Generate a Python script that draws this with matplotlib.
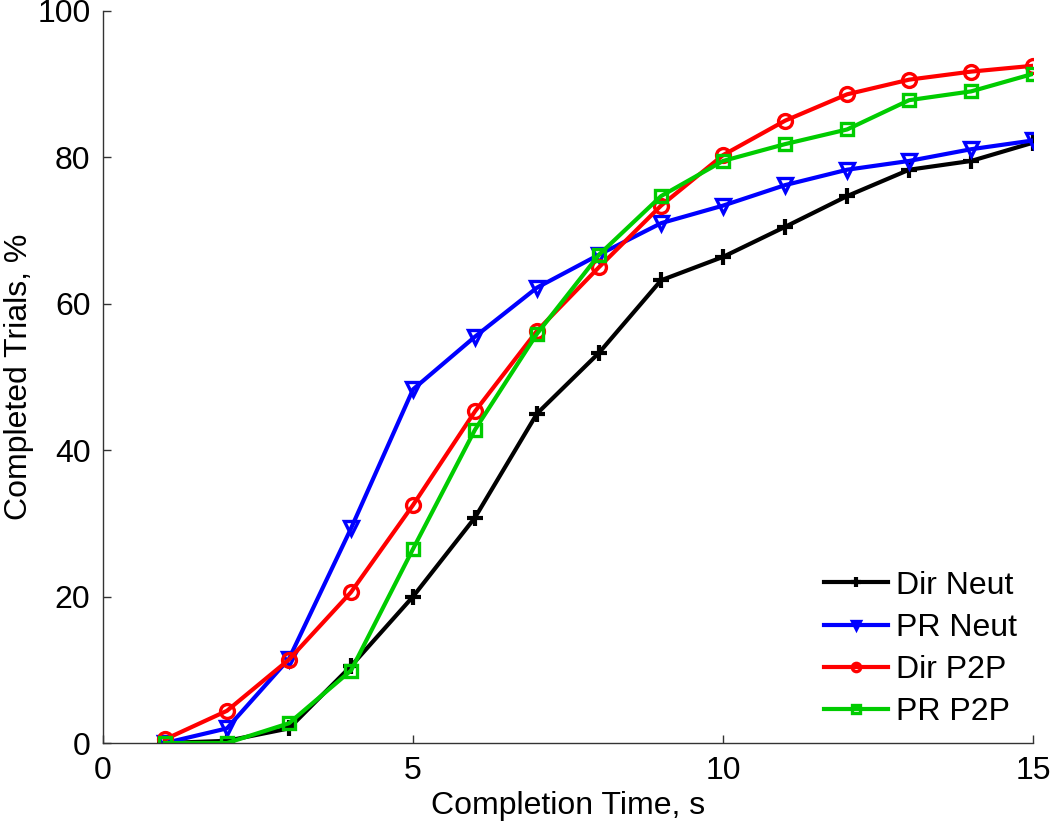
import matplotlib
matplotlib.use("Agg")
import matplotlib.pyplot as plt

plt.rcParams['font.family'] = ['Liberation Sans', 'DejaVu Sans']

time_s = [1, 2, 3, 4, 5, 6, 7, 8, 9, 10, 11, 12, 13, 14, 15]
dir_neut = [0, 0.3, 2.0, 10.5, 20.0, 30.8, 45.0, 53.3, 63.2, 66.4, 70.5, 74.7, 78.3, 79.5, 82.0]
pr_neut = [0, 2.0, 11.5, 29.3, 48.3, 55.5, 62.2, 66.7, 71.0, 73.4, 76.2, 78.3, 79.5, 81.1, 82.3]
dir_p2p = [0.5, 4.4, 11.4, 20.6, 32.5, 45.3, 56.3, 65.0, 73.4, 80.3, 85.0, 88.6, 90.6, 91.7, 92.5]
pr_p2p = [0, 0, 2.7, 9.9, 26.5, 42.8, 55.9, 66.7, 74.7, 79.5, 81.8, 83.8, 87.8, 89.0, 91.4]

labels = ["Dir Neut", "PR Neut", "Dir P2P", "PR P2P"]
x_ticks = [0, 5, 10, 15]
y_ticks = [0, 20, 40, 60, 80, 100]

fig = plt.figure(figsize=(10.5, 8.33), dpi=100)
ax = fig.add_axes([0.098, 0.108, 0.886, 0.879])

lw = 3.0
mew = 2.4
ax.plot(time_s, dir_neut, color='black', marker='+', markersize=11, markeredgewidth=3, lw=lw, label=labels[0])
ax.plot(time_s, pr_neut, color=(0, 0, 1), marker='v', markersize=10, markerfacecolor='none', markeredgewidth=mew, lw=lw, label=labels[1])
ax.plot(time_s, dir_p2p, color=(1, 0, 0), marker='o', markersize=10, markerfacecolor='none', markeredgewidth=mew, lw=lw, label=labels[2])
ax.plot(time_s, pr_p2p, color=(0, 0.8, 0), marker='s', markersize=9, markerfacecolor='none', markeredgewidth=mew, lw=lw, label=labels[3])

ax.set_xlim(0, 15)
ax.set_ylim(0, 100)
ax.set_xticks(x_ticks)
ax.set_yticks(y_ticks)
ax.spines['top'].set_visible(False)
ax.spines['right'].set_visible(False)
for s in ('left', 'bottom'):
    ax.spines[s].set_color('#333333')
    ax.spines[s].set_linewidth(1.0)
ax.tick_params(direction='in', length=6, width=1, colors='#333333', labelcolor='black', labelsize=23, pad=9)

ax.set_xlabel("Completion Time, s", fontsize=23, labelpad=4)
ax.set_ylabel("Completed Trials, %", fontsize=23, labelpad=2)

leg = ax.legend(loc='lower right', frameon=False, fontsize=23, handlelength=2.0, handletextpad=0.25,
                labelspacing=0.38, markerscale=0.6, borderaxespad=0.1)

fig.savefig("out.png", dpi=100)
